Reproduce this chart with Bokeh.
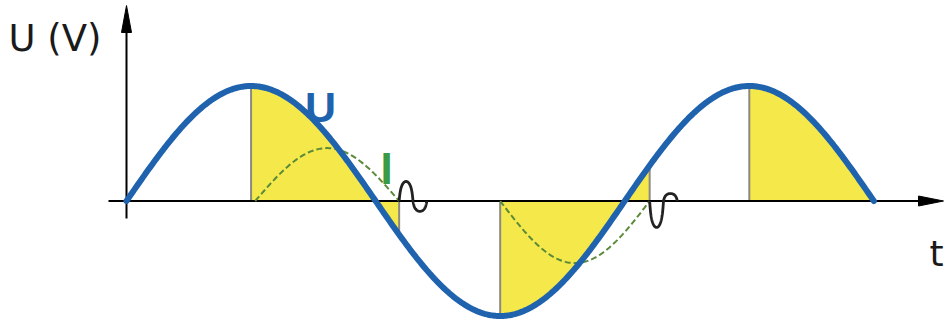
import numpy as np
from bokeh.plotting import figure
from bokeh.models import Range1d
from bokeh.core.properties import value
from bokeh.embed import file_html
from bokeh.resources import INLINE

# ---------------- data (phase in degrees, voltage in units of peak) ----------------
U_AMPLITUDE = 1.0
U_START_DEG = 0
U_END_DEG = 540

SHADE_FROM_DEG = [90, 270, 450]
SHADE_TO_DEG = [197, 378, 540]

I_FROM_DEG = [93, 270]
I_TO_DEG = [197, 378]
I_PEAK = [0.46, -0.54]

SQUIGGLE_WIDTH_DEG = 20
SQUIGGLE_FIRST_LOBE = [0.17, 0.23]
SQUIGGLE_SECOND_LOBE = [0.09, 0.065]

LABEL_Y_AXIS = "U (V)"
LABEL_X_AXIS = "t"
LABEL_U = "U"
LABEL_I = "I"

# ---------------- styling / geometry ----------------
W, H = 944, 319
X0_PX, PX_PER_DEG = 126.0, 1.384      # pixel of phase 0, scale
Y0_PX, PX_PER_UNIT = 200.5, 115.0     # pixel of zero line, scale

def dx(px):
    return (px - X0_PX) / PX_PER_DEG

def dy(py):
    return (Y0_PX - py) / PX_PER_UNIT

x_range = Range1d(dx(0), dx(W))
y_range = Range1d(dy(H), dy(0))

BLUE = "#1f62ad"
YELLOW = "#f5e84a"
GREY = "#8a8a80"
DASH_GREEN = "#5a8a38"
LABEL_GREEN = "#3c9a45"
INK = "#1a1a1a"

p = figure(width=W, height=H, x_range=x_range, y_range=y_range,
           output_backend="svg", toolbar_location=None,
           min_border=0, min_border_left=0, min_border_right=0,
           min_border_top=0, min_border_bottom=0)
p.axis.visible = False
p.grid.visible = False
p.outline_line_color = None
p.background_fill_color = "white"
p.border_fill_color = "white"

def u_of(deg):
    return U_AMPLITUDE * np.sin(np.radians(deg))

# shaded areas between U and zero line
for a, b in zip(SHADE_FROM_DEG, SHADE_TO_DEG):
    xs = np.linspace(a, b, 200)
    p.varea(x=xs, y1=np.zeros_like(xs), y2=u_of(xs), fill_color=YELLOW, fill_alpha=1)

# vertical grey lines at edges of the shaded areas
edges = sorted(set(SHADE_FROM_DEG + SHADE_TO_DEG[:-1]))
p.segment(x0=edges, y0=[0] * len(edges), x1=edges, y1=[float(u_of(e)) for e in edges],
          line_color=GREY, line_width=2)

# axes with arrow heads
axis_x0 = dx(108)
axis_x_tip = dx(943)
axis_y0 = dy(218)
axis_y_tip = dy(5)
head_len_x = 25 / PX_PER_DEG
head_half_x = 5 / PX_PER_UNIT
head_len_y = 27 / PX_PER_UNIT
head_half_y = 5 / PX_PER_DEG
p.line([axis_x0, axis_x_tip - head_len_x * 0.5], [0, 0], line_color="black", line_width=2)
p.line([0, 0], [axis_y0, axis_y_tip - head_len_y * 0.5], line_color="black", line_width=2)
p.patch([axis_x_tip, axis_x_tip - head_len_x, axis_x_tip - head_len_x],
        [0, head_half_x, -head_half_x], fill_color="black", line_color="black")
p.patch([0, head_half_y, -head_half_y],
        [axis_y_tip, axis_y_tip - head_len_y, axis_y_tip - head_len_y],
        fill_color="black", line_color="black")

# current I (dashed half waves)
for a, b, pk in zip(I_FROM_DEG, I_TO_DEG, I_PEAK):
    xs = np.linspace(a, b, 120)
    ys = pk * np.sin(np.pi * (xs - a) / (b - a))
    p.line(xs, ys, line_color=DASH_GREEN, line_width=2, line_dash="6 3")

# break squiggles
for b, pk, l1, l2 in zip(I_TO_DEG, I_PEAK, SQUIGGLE_FIRST_LOBE, SQUIGGLE_SECOND_LOBE):
    d = np.sign(pk)
    t = np.linspace(0, 1, 120)
    xs = b + SQUIGGLE_WIDTH_DEG * (t - 0.6 * np.sin(4 * np.pi * t) / (4 * np.pi))
    s = np.sin(2 * np.pi * t)
    ys = d * np.where(s > 0, l1 * s, l2 * s)
    p.line(xs, ys, line_color="#222222", line_width=2.8)

# voltage U
xs = np.linspace(U_START_DEG, U_END_DEG, 600)
p.line(xs, u_of(xs), line_color=BLUE, line_width=6, line_cap="round")

# texts
p.text(x=[dx(8)], y=[dy(38)], text=[LABEL_Y_AXIS],
       text_font=value("DejaVu Sans"), text_font_size="37px", text_color=INK,
       text_align="left", text_baseline="alphabetic")
p.text(x=[dx(936)], y=[dy(253)], text=[LABEL_X_AXIS],
       text_font=value("DejaVu Sans"), text_font_size="36px", text_color=INK,
       text_align="center", text_baseline="alphabetic")
p.text(x=[dx(320)], y=[dy(106)], text=[LABEL_U],
       text_font=value("Liberation Sans"), text_font_size="43px", text_font_style="bold",
       text_color=BLUE, text_align="center", text_baseline="alphabetic")
p.text(x=[dx(386)], y=[dy(168)], text=[LABEL_I],
       text_font=value("Liberation Sans"), text_font_size="44px", text_font_style="bold",
       text_color=LABEL_GREEN, text_align="center", text_baseline="alphabetic")

open("out.html", "w").write(file_html(p, INLINE))
